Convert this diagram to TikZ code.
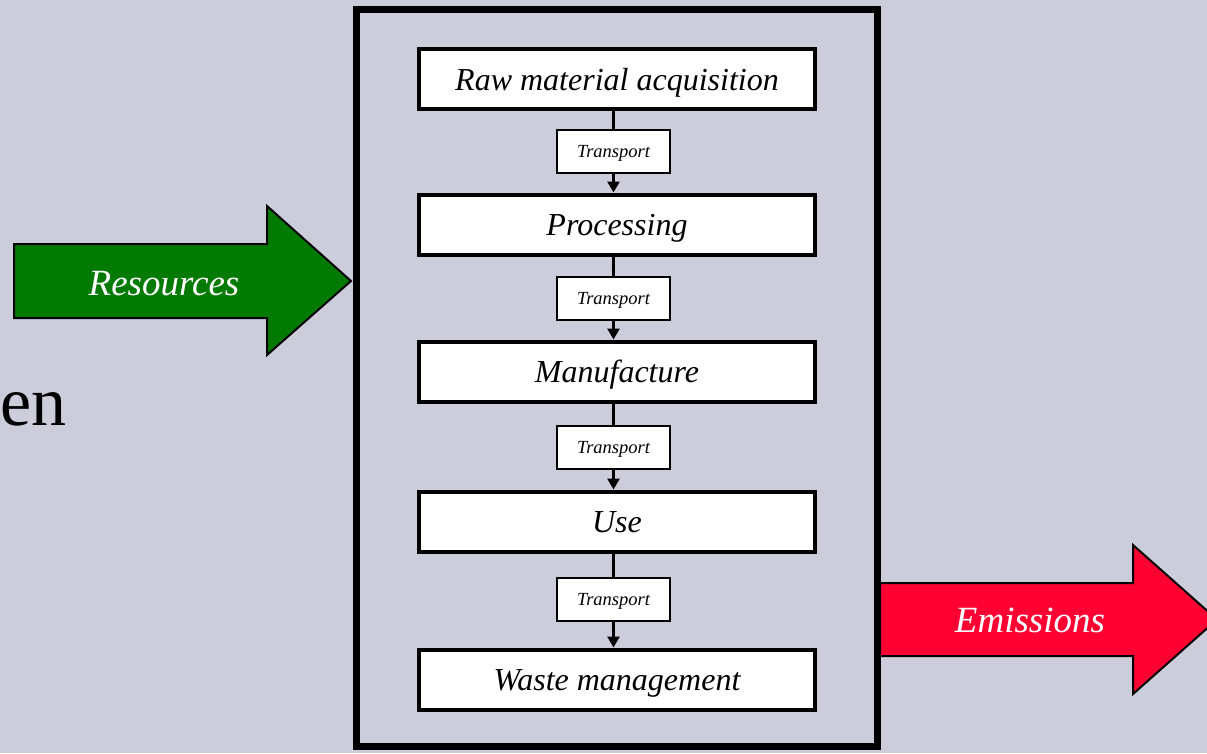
\documentclass[tikz,border=0pt]{standalone}
\usepackage{fontspec}
\setmainfont{Liberation Serif}
\usetikzlibrary{arrows.meta}
\definecolor{bg}{RGB}{203,205,218}
\definecolor{resgreen}{RGB}{0,122,0}
\definecolor{emred}{RGB}{255,0,51}
\begin{document}
\begin{tikzpicture}[x=1pt,y=-1pt,
  stagebox/.style={draw, line width=4pt, fill=white, minimum width=396pt, minimum height=60pt,
    inner sep=0pt, text height=22pt, text depth=0pt, font=\fontsize{32}{32}\selectfont\itshape},
  transbox/.style={draw, line width=2pt, fill=white, minimum width=113pt, minimum height=43pt,
    inner sep=0pt, text height=12pt, text depth=0pt, font=\fontsize{18.5}{18.5}\selectfont\itshape},
  frame/.style={draw, line width=7pt, minimum width=521.5pt, minimum height=737pt, inner sep=0pt},
  flow/.style={line width=3pt},
  flowarrow/.style={flow, -{Triangle[width=12pt,length=11pt]}},
  bigarrow/.style={draw=black, line width=2pt, line join=miter},
  arrowlabel/.style={text=white, font=\fontsize{37}{37}\selectfont\itshape, inner sep=0pt,
    text height=26pt, text depth=0pt}]
\useasboundingbox[fill=bg] (0,0) rectangle (1207,753);

% left text fragment
\node[anchor=base west, inner sep=0pt, font=\fontsize{70}{70}\selectfont] (enfrag) at (0,425) {en};

% emissions arrow (behind frame)
\filldraw[bigarrow, fill=emred] (880,583) -- (1133,583) -- (1133,545) -- (1217,619.5)
  -- (1133,694) -- (1133,656) -- (880,656) -- cycle;
\node[arrowlabel] (emlabel) at (1030,619) {Emissions};

% frame
\node[frame] (frame) at (616.75,378) {};

% resources arrow
\filldraw[bigarrow, fill=resgreen] (14,244) -- (267,244) -- (267,206) -- (351,281)
  -- (267,355) -- (267,318) -- (14,318) -- cycle;
\node[arrowlabel] (reslabel) at (164,282) {Resources};

% stages
\node[stagebox] (raw)   at (617,79)    {Raw material acquisition};
\node[stagebox] (proc)  at (617,224.5) {Processing};
\node[stagebox] (manu)  at (617,371.5) {Manufacture};
\node[stagebox] (use)   at (617,521.5) {Use};
\node[stagebox] (waste) at (617,679.5) {Waste management};

\node[transbox] (t1) at (613.5,151.5) {Transport};
\node[transbox] (t2) at (613.5,298)   {Transport};
\node[transbox] (t3) at (613.5,447.5) {Transport};
\node[transbox] (t4) at (613.5,599)   {Transport};

\draw[flow] (raw.south -| t1) -- (t1.north);
\draw[flowarrow] (t1.south) -- (proc.north -| t1);
\draw[flow] (proc.south -| t2) -- (t2.north);
\draw[flowarrow] (t2.south) -- (manu.north -| t2);
\draw[flow] (manu.south -| t3) -- (t3.north);
\draw[flowarrow] (t3.south) -- (use.north -| t3);
\draw[flow] (use.south -| t4) -- (t4.north);
\draw[flowarrow] (t4.south) -- (waste.north -| t4);
\end{tikzpicture}
\end{document}
